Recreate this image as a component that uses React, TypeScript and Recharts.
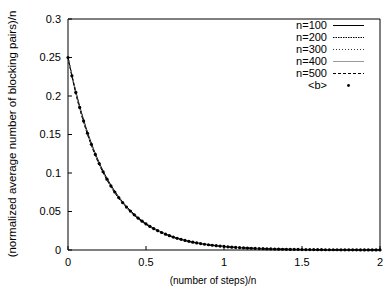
import { ComposedChart, Line, Scatter, XAxis, YAxis, Legend } from 'recharts';

// sample positions, (number of steps)/n
const X_COARSE = [
  0, 0.05, 0.1, 0.15, 0.2, 0.25, 0.3, 0.35, 0.4, 0.45, 0.5, 0.55, 0.6, 0.65, 0.7, 0.75, 0.8, 0.85, 0.9, 0.95,
  1, 1.05, 1.1, 1.15, 1.2, 1.25, 1.3, 1.35, 1.4, 1.45, 1.5, 1.55, 1.6, 1.65, 1.7, 1.75, 1.8, 1.85, 1.9, 1.95, 2,
];
const X_FINE = [
  0, 0.025, 0.05, 0.075, 0.1, 0.125, 0.15, 0.175, 0.2, 0.225, 0.25, 0.275, 0.3, 0.325, 0.35, 0.375, 0.4, 0.425,
  0.45, 0.475, 0.5, 0.525, 0.55, 0.575, 0.6, 0.625, 0.65, 0.675, 0.7, 0.725, 0.75, 0.775, 0.8, 0.825, 0.85, 0.875,
  0.9, 0.925, 0.95, 0.975, 1, 1.025, 1.05, 1.075, 1.1, 1.125, 1.15, 1.175, 1.2, 1.225, 1.25, 1.275, 1.3, 1.325,
  1.35, 1.375, 1.4, 1.425, 1.45, 1.475, 1.5, 1.525, 1.55, 1.575, 1.6, 1.625, 1.65, 1.675, 1.7, 1.725, 1.75, 1.775,
  1.8, 1.825, 1.85, 1.875, 1.9, 1.925, 1.95, 1.975, 2,
];

const N100 = [
  0.25, 0.206, 0.169, 0.1385, 0.1135, 0.0931, 0.0763, 0.0625, 0.0512, 0.042, 0.0344, 0.0282, 0.0231, 0.019, 0.0155,
  0.0127, 0.0104, 0.0085, 0.007, 0.0057, 0.0047, 0.0038, 0.0032, 0.0026, 0.0021, 0.0017, 0.0014, 0.0012, 0.001,
  0.0008, 0.0007, 0.0005, 0.0004, 0.0004, 0.0003, 0.0002, 0.0002, 0.0002, 0.0001, 0.0001, 0.0001,
];
const N200 = [
  0.25, 0.2047, 0.1676, 0.1372, 0.1123, 0.092, 0.0753, 0.0616, 0.0505, 0.0413, 0.0338, 0.0277, 0.0227, 0.0186, 0.0152,
  0.0124, 0.0102, 0.0083, 0.0068, 0.0056, 0.0046, 0.0037, 0.0031, 0.0025, 0.0021, 0.0017, 0.0014, 0.0011, 0.0009,
  0.0008, 0.0006, 0.0005, 0.0004, 0.0003, 0.0003, 0.0002, 0.0002, 0.0002, 0.0001, 0.0001, 0.0001,
];
const N300 = [
  0.25, 0.204, 0.1668, 0.1364, 0.1116, 0.0913, 0.0747, 0.0611, 0.05, 0.0409, 0.0335, 0.0274, 0.0224, 0.0184, 0.015,
  0.0123, 0.0101, 0.0082, 0.0067, 0.0055, 0.0045, 0.0037, 0.003, 0.0025, 0.002, 0.0017, 0.0014, 0.0011, 0.0009,
  0.0007, 0.0006, 0.0005, 0.0004, 0.0003, 0.0003, 0.0002, 0.0002, 0.0002, 0.0001, 0.0001, 0.0001,
];
const N400 = [
  0.25, 0.2036, 0.1664, 0.136, 0.1112, 0.091, 0.0744, 0.0608, 0.0498, 0.0407, 0.0333, 0.0272, 0.0223, 0.0182, 0.0149,
  0.0122, 0.01, 0.0081, 0.0067, 0.0055, 0.0045, 0.0036, 0.003, 0.0024, 0.002, 0.0016, 0.0013, 0.0011, 0.0009,
  0.0007, 0.0006, 0.0005, 0.0004, 0.0003, 0.0003, 0.0002, 0.0002, 0.0001, 0.0001, 0.0001, 0.0001,
];
const N500 = [
  0.25, 0.2033, 0.1661, 0.1357, 0.111, 0.0908, 0.0742, 0.0607, 0.0496, 0.0406, 0.0332, 0.0271, 0.0222, 0.0181, 0.0148,
  0.0121, 0.0099, 0.0081, 0.0066, 0.0054, 0.0044, 0.0036, 0.0029, 0.0024, 0.002, 0.0016, 0.0013, 0.0011, 0.0009,
  0.0007, 0.0006, 0.0005, 0.0004, 0.0003, 0.0002, 0.0002, 0.0002, 0.0001, 0.0001, 0.0001, 0.0001,
];
// <b>, plotted as points
const B_VALUES = [
  0.25, 0.2262, 0.2047, 0.1852, 0.1676, 0.1516, 0.1372, 0.1241, 0.1123, 0.1016, 0.092, 0.0832, 0.0753, 0.0681, 0.0616,
  0.0558, 0.0505, 0.0457, 0.0413, 0.0374, 0.0338, 0.0306, 0.0277, 0.0251, 0.0227, 0.0205, 0.0186, 0.0168, 0.0152,
  0.0138, 0.0124, 0.0113, 0.0102, 0.0092, 0.0083, 0.0075, 0.0068, 0.0062, 0.0056, 0.0051, 0.0046, 0.0041, 0.0037,
  0.0034, 0.0031, 0.0028, 0.0025, 0.0023, 0.0021, 0.0019, 0.0017, 0.0015, 0.0014, 0.0012, 0.0011, 0.001, 0.0009,
  0.0008, 0.0008, 0.0007, 0.0006, 0.0006, 0.0005, 0.0005, 0.0004, 0.0004, 0.0003, 0.0003, 0.0003, 0.0003, 0.0002,
  0.0002, 0.0002, 0.0002, 0.0002, 0.0001, 0.0001, 0.0001, 0.0001, 0.0001, 0.0001,
];

const X_TICKS = [0, 0.5, 1, 1.5, 2];
const Y_TICKS = [0, 0.05, 0.1, 0.15, 0.2, 0.25, 0.3];

const SERIES = [
  { name: 'n=100', values: N100, color: '#000', dash: undefined },
  { name: 'n=200', values: N200, color: '#000', dash: '1.5 1' },
  { name: 'n=300', values: N300, color: '#333', dash: '1 2' },
  { name: 'n=400', values: N400, color: '#999', dash: undefined },
  { name: 'n=500', values: N500, color: '#000', dash: '3 2' },
];

const FONT = '"Liberation Sans", Arial, Helvetica, sans-serif';

const toPoints = (xs: number[], ys: number[]) => xs.map((x, i) => ({ x, y: ys[i] }));

function LegendBox() {
  const row = { display: 'flex', alignItems: 'center', height: 12 };
  const label = { width: 47, textAlign: 'right' as const, lineHeight: '12px', whiteSpace: 'nowrap' as const };
  return (
    <div style={{ fontFamily: FONT, fontSize: 11, color: '#000' }}>
      {SERIES.map(s => (
        <div key={s.name} style={row}>
          <span style={label}>{s.name}</span>
          <svg width={37} height={12}>
            <line x1={6} x2={37} y1={6.5} y2={6.5} stroke={s.color} strokeWidth={1} strokeDasharray={s.dash} />
          </svg>
        </div>
      ))}
      <div style={row}>
        <span style={label}>{'<b>'}</span>
        <svg width={37} height={12}>
          <circle cx={21.5} cy={6.5} r={1.4} fill="#000" />
        </svg>
      </div>
    </div>
  );
}

export default function App() {
  const bPoints = toPoints(X_FINE, B_VALUES);
  const tickStyle = { fontFamily: FONT, fontSize: 11, fill: '#000' };

  return (
    <div style={{ position: 'absolute', left: 0, top: 0, background: '#fff' }}>
      <ComposedChart width={383} height={286} margin={{ top: 18, right: 2, left: 0, bottom: 0 }}>
        <XAxis
          xAxisId="b"
          type="number"
          dataKey="x"
          domain={[0, 2]}
          ticks={X_TICKS}
          height={36}
          tick={tickStyle}
          tickSize={-4}
          tickMargin={12}
          axisLine={{ stroke: '#000' }}
          tickLine={{ stroke: '#000' }}
          label={{
            content: () => (
              <text x={213} y={280} textAnchor="middle" dominantBaseline="central" fontFamily={FONT} fontSize={10} fill="#000">
                (number of steps)/n
              </text>
            ),
          }}
        />
        <XAxis
          xAxisId="t"
          orientation="top"
          type="number"
          dataKey="x"
          domain={[0, 2]}
          ticks={X_TICKS}
          height={1}
          tickSize={-4}
          tickFormatter={() => ''}
          axisLine={{ stroke: '#000' }}
          tickLine={{ stroke: '#000' }}
        />
        <YAxis
          yAxisId="l"
          type="number"
          domain={[0, 0.3]}
          ticks={Y_TICKS}
          width={68}
          tick={tickStyle}
          tickSize={-4}
          tickMargin={11}
          axisLine={{ stroke: '#000' }}
          tickLine={{ stroke: '#000' }}
          label={{
            content: () => (
              <text
                x={12}
                y={134}
                transform="rotate(-90 12 134)"
                textAnchor="middle"
                dominantBaseline="central"
                fontFamily={FONT}
                fontSize={11.5}
                fill="#000"
              >
                (normalized average number of blocking pairs)/n
              </text>
            ),
          }}
        />
        <YAxis
          yAxisId="r"
          orientation="right"
          type="number"
          domain={[0, 0.3]}
          ticks={Y_TICKS}
          width={1}
          tickSize={-4}
          tickFormatter={() => ''}
          axisLine={{ stroke: '#000' }}
          tickLine={{ stroke: '#000' }}
        />
        {SERIES.map(s => (
          <Line
            key={s.name}
            xAxisId="b"
            yAxisId="l"
            data={toPoints(X_COARSE, s.values)}
            dataKey="y"
            name={s.name}
            type="monotone"
            stroke={s.color}
            strokeWidth={1}
            strokeDasharray={s.dash}
            dot={false}
            activeDot={false}
            isAnimationActive={false}
          />
        ))}
        <Scatter
          xAxisId="b"
          yAxisId="l"
          data={bPoints}
          dataKey="y"
          name="<b>"
          fill="#000"
          shape={(p: any) => <circle cx={p.cx} cy={p.cy} r={1.6} fill="#000" />}
          isAnimationActive={false}
        />
        <Legend
          layout="horizontal"
          verticalAlign="middle"
          align="center"
          content={() => <LegendBox />}
          wrapperStyle={{ position: 'absolute', left: 280, top: 19, width: 90, height: 72 }}
        />
      </ComposedChart>
    </div>
  );
}
